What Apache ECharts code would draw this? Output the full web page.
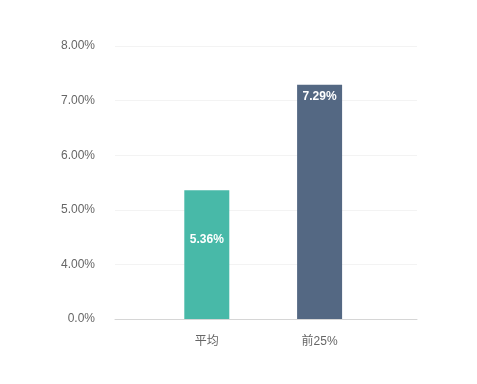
<!DOCTYPE html>
<html>
<head>
<meta charset="utf-8">
<script src="https://cdn.jsdelivr.net/npm/echarts@6/dist/echarts.min.js"></script>
<style>html,body{margin:0;padding:0;background:#fff;}#c{width:477px;height:384px;}</style>
</head>
<body>
<div id="c"></div>
<script>
var categories = ['平均', '前25%'];
var values = [5.36, 7.29];
var barColors = ['#48b9a8', '#546883'];
var yMin = 3, yMax = 8, yInterval = 1;
var labelDistances = [44, 6];

var chart = echarts.init(document.getElementById('c'), null, {renderer: 'canvas'});
var font = 'Helvetica, Arial, "Liberation Sans", "Noto Sans CJK SC", sans-serif';
chart.setOption({
  animation: false,
  grid: [
    {left: 115, right: 60, top: 46, bottom: 65},
    {left: 150.4, right: 101, top: 46, bottom: 65}
  ],
  xAxis: [
    {type: 'category', gridIndex: 0, data: categories,
     axisLine: {show: true, lineStyle: {color: '#d6d6d6'}},
     axisTick: {show: false}, axisLabel: {show: false}},
    {type: 'category', gridIndex: 1, data: categories,
     axisLine: {show: false}, axisTick: {show: false},
     axisLabel: {color: '#666', fontSize: 12, margin: 17, fontFamily: font}}
  ],
  yAxis: [
    {type: 'value', gridIndex: 0, min: yMin, max: yMax, interval: yInterval,
     axisLine: {show: false}, axisTick: {show: false},
     splitLine: {lineStyle: {color: '#f3f3f3'}},
     axisLabel: {color: '#666', fontSize: 12, margin: 20, fontFamily: font,
       padding: [3, 0, 0, 0],
       formatter: function (v) { return v === yMin ? '0.0%' : v.toFixed(2) + '%'; }}},
    {type: 'value', gridIndex: 1, min: yMin, max: yMax, interval: yInterval, show: false,
     splitLine: {show: false}}
  ],
  series: [{
    type: 'bar', xAxisIndex: 1, yAxisIndex: 1,
    barWidth: 45,
    data: values.map(function (v, i) {
      return {value: v, itemStyle: {color: barColors[i]},
        label: {show: true, position: 'insideTop', distance: labelDistances[i],
          color: '#fff', fontWeight: 'bold', fontSize: 12, fontFamily: font,
          formatter: v.toFixed(2) + '%'}};
    })
  }]
});
</script>
</body>
</html>
